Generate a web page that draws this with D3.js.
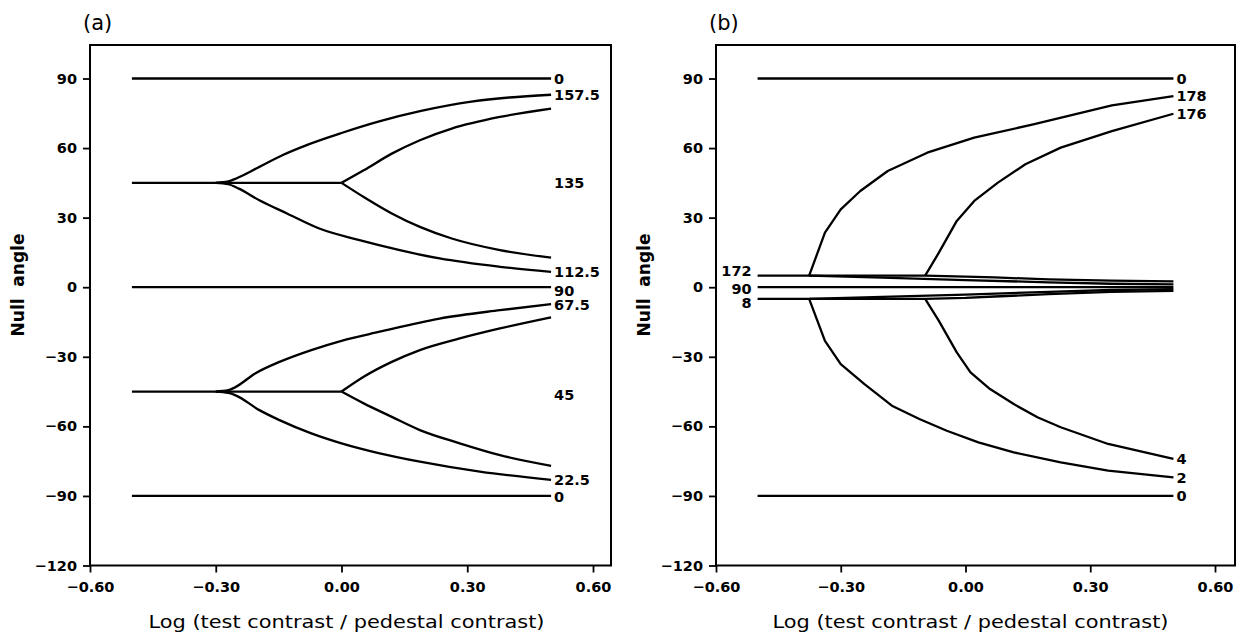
<!DOCTYPE html>
<html><head><meta charset="utf-8">
<script src="https://cdn.jsdelivr.net/npm/d3@7"></script>
<style>
body{margin:0;background:#fff;}
svg{display:block;}
.tick text{font-family:"DejaVu Sans",sans-serif;font-weight:bold;font-size:14.5px;fill:#000;}
.tick line{stroke:#000;stroke-width:1.8px;}
</style></head>
<body>
<svg id="chart" width="1236" height="636"></svg>
<script>
// ---------- data ----------
const xTicks = [-0.6, -0.3, 0, 0.3, 0.6];
const xTickLabels = ["−0.60", "−0.30", "0.00", "0.30", "0.60"];
const yTicks = [-120, -90, -60, -30, 0, 30, 60, 90];
const yTickLabels = ["−120", "−90", "−60", "−30", "0", "30", "60", "90"];

// panel (a) series: [log contrast ratio, null angle]
const a_0top = [[-0.5, 90], [0.5, 90]];
const a_90 = [[-0.5, 0], [0.5, 0]];
const a_0bot = [[-0.5, -90], [0.5, -90]];
const a_135stem = [[-0.5, 45], [0.0, 45]];
const a_157_5 = [[-0.30, 45], [-0.27, 45.6], [-0.25, 47], [-0.2, 51.5], [-0.14, 57], [-0.08, 61.5], [0, 66.5], [0.09, 71.5], [0.19, 76], [0.31, 80], [0.4, 81.8], [0.5, 83]];
const a_112_5 = [[-0.30, 45], [-0.27, 44.4], [-0.245, 42.5], [-0.196, 37.5], [-0.13, 31.8], [-0.053, 25.3], [0.043, 20.3], [0.139, 16], [0.234, 12.4], [0.378, 8.8], [0.5, 6.6]];
const a_135up = [[0, 45], [0.053, 50.4], [0.12, 57.6], [0.187, 63.4], [0.263, 68.4], [0.378, 73.4], [0.5, 77]];
const a_135lo = [[0, 45], [0.053, 38.9], [0.12, 31.8], [0.187, 26], [0.263, 21], [0.378, 16], [0.5, 12.8]];
const a_45stem = [[-0.5, -45], [0.0, -45]];
const a_67_5 = [[-0.30, -45], [-0.27, -44.4], [-0.254, -43.2], [-0.206, -37.2], [-0.148, -32.2], [-0.072, -27.1], [0, -23.1], [0.091, -19.2], [0.234, -13.5], [0.378, -9.9], [0.5, -7.3]];
const a_22_5 = [[-0.30, -45], [-0.27, -45.6], [-0.254, -46.5], [-0.196, -53], [-0.148, -57.3], [-0.072, -63], [0, -67.3], [0.091, -71.6], [0.187, -75.2], [0.33, -79.5], [0.5, -83.1]];
const a_45up = [[0, -45], [0.053, -38.6], [0.12, -32.2], [0.187, -27.1], [0.282, -22.1], [0.378, -17.8], [0.5, -13]];
const a_45lo = [[0, -45], [0.053, -50.1], [0.12, -55.9], [0.187, -61.6], [0.282, -67.3], [0.378, -72.4], [0.5, -77]];
const aLabelText = ["0", "157.5", "135", "112.5", "90", "67.5", "45", "22.5", "0"];
const aLabelY = [90, 83, 45, 6.6, -1.5, -7.5, -46.5, -83, -90.5];

// panel (b) series
const b_0top = [[-0.5, 90], [0.5, 90]];
const b_0bot = [[-0.5, -90], [0.5, -90]];
const b_90 = [[-0.5, 0], [0.5, 0]];
const b_172 = [[-0.5, 5], [-0.376, 5], [-0.2, 4.1], [0, 3.1], [0.2, 2.1], [0.35, 1.5], [0.5, 1.2]];
const b_172b = [[-0.376, 5], [-0.097, 5], [0, 4.6], [0.07, 4.2], [0.2, 3.4], [0.35, 2.8], [0.5, 2.5]];
const b_8 = [[-0.5, -5], [-0.376, -5], [-0.2, -4.2], [0, -3.2], [0.2, -2.0], [0.35, -1.2], [0.5, -0.8]];
const b_8b = [[-0.376, -5], [-0.097, -5], [0, -4.6], [0.07, -4.0], [0.2, -3.0], [0.35, -2.0], [0.5, -1.6]];
const b_178 = [[-0.376, 5], [-0.338, 23.5], [-0.3, 33.6], [-0.253, 41.5], [-0.187, 50.1], [-0.092, 58], [0.021, 64.5], [0.163, 70.2], [0.352, 78.4], [0.5, 82.4]];
const b_176 = [[-0.097, 5], [-0.064, 14.9], [-0.021, 28.6], [0.021, 37.2], [0.078, 45.1], [0.144, 53], [0.229, 60.2], [0.352, 67.3], [0.5, 74.8]];
const b_2 = [[-0.376, -5], [-0.338, -23.1], [-0.3, -33.2], [-0.243, -41.8], [-0.177, -51.1], [-0.111, -56.8], [-0.045, -61.9], [0.031, -66.9], [0.116, -71.2], [0.229, -75.5], [0.343, -79.1], [0.5, -82]];
const b_4 = [[-0.097, -5], [-0.064, -14.5], [-0.021, -28.1], [0.012, -36.7], [0.059, -43.9], [0.116, -50.4], [0.173, -56.1], [0.229, -60.4], [0.343, -67.6], [0.5, -74]];
const bRightText = ["0", "178", "176", "4", "2", "0"];
const bRightY = [90, 82.4, 74.8, -74, -82, -90];
const bLeftText = ["172", "90", "8"];
const bLeftY = [7, -0.5, -6.5];

const xTitle = "Log (test contrast / pedestal contrast)";
const yTitle = "Null  angle";

// ---------- drawing ----------
const svg = d3.select("#chart");
const yTop = 45, yBot = 565.5;
const y = d3.scaleLinear().domain([-120, 90]).range([565.5, 78.5]);

function panel(cfg) {
  const x = d3.scaleLinear().domain([-0.6, 0.6]).range([cfg.x0, cfg.x1]);
  const g = svg.append("g");
  // frame
  g.append("rect").attr("x", cfg.x0).attr("y", yTop)
    .attr("width", cfg.frameRight - cfg.x0).attr("height", yBot - yTop)
    .attr("fill", "none").attr("stroke", "#000").attr("stroke-width", 2);
  // axes
  const ya = g.append("g").attr("transform", `translate(${cfg.x0},0)`)
    .call(d3.axisLeft(y).tickValues(yTicks).tickSize(7).tickPadding(6)
      .tickFormat((d, i) => yTickLabels[i]));
  ya.select(".domain").remove();
  const xa = g.append("g").attr("transform", `translate(0,${yBot})`)
    .call(d3.axisBottom(x).tickValues(xTicks).tickSize(7).tickPadding(9)
      .tickFormat((d, i) => xTickLabels[i]));
  xa.select(".domain").remove();

  const line = d3.line().x(d => x(d[0])).y(d => y(d[1])).curve(cfg.curve);
  g.selectAll("path.series").data(cfg.series).join("path")
    .attr("class", "series").attr("d", line)
    .attr("fill", "none").attr("stroke", "#000").attr("stroke-width", 2.3)
    .attr("stroke-linejoin", "round").attr("stroke-linecap", "butt");

  // right labels
  g.selectAll("text.rl").data(cfg.rightText).join("text").attr("class", "rl")
    .attr("x", x(0.5) + 3).attr("y", (d, i) => y(cfg.rightY[i]))
    .attr("dy", "0.36em")
    .style("font-family", '"DejaVu Sans",sans-serif').style("font-weight", "bold")
    .style("font-size", "14.5px").text(d => d);
  if (cfg.leftText) {
    g.selectAll("text.ll").data(cfg.leftText).join("text").attr("class", "ll")
      .attr("x", x(-0.5) - 6).attr("y", (d, i) => y(cfg.leftY[i]))
      .attr("dy", "0.36em").attr("text-anchor", "end")
      .style("font-family", '"DejaVu Sans",sans-serif').style("font-weight", "bold")
      .style("font-size", "14.5px").text(d => d);
  }
  // panel letter
  g.append("text").attr("x", cfg.x0 - 7).attr("y", 30)
    .style("font-family", '"DejaVu Sans",sans-serif').style("font-size", "21px")
    .text(cfg.letter);
  // axis titles
  g.append("text").attr("x", x(0) + 5).attr("y", 628).attr("text-anchor", "middle")
    .attr("textLength", 396).attr("lengthAdjust", "spacingAndGlyphs")
    .style("font-family", '"DejaVu Sans",sans-serif').style("font-size", "18px")
    .text(xTitle);
  g.append("text").attr("transform", `translate(${cfg.x0 - 66},285) rotate(-90)`)
    .attr("text-anchor", "middle")
    .style("font-family", '"DejaVu Sans",sans-serif').style("font-size", "17px")
    .style("font-weight", "bold").style("white-space", "pre")
    .text(yTitle);
}

panel({
  x0: 90, x1: 593, frameRight: 611, letter: "(a)", curve: d3.curveMonotoneX,
  series: [a_0top, a_90, a_0bot, a_135stem, a_157_5, a_112_5, a_135up, a_135lo,
           a_45stem, a_67_5, a_22_5, a_45up, a_45lo],
  rightText: aLabelText, rightY: aLabelY
});
panel({
  x0: 716, x1: 1215, frameRight: 1235, letter: "(b)", curve: d3.curveLinear,
  series: [b_0top, b_0bot, b_90, b_172, b_172b, b_8, b_8b, b_178, b_176, b_2, b_4],
  rightText: bRightText, rightY: bRightY, leftText: bLeftText, leftY: bLeftY
});
</script>
</body></html>
